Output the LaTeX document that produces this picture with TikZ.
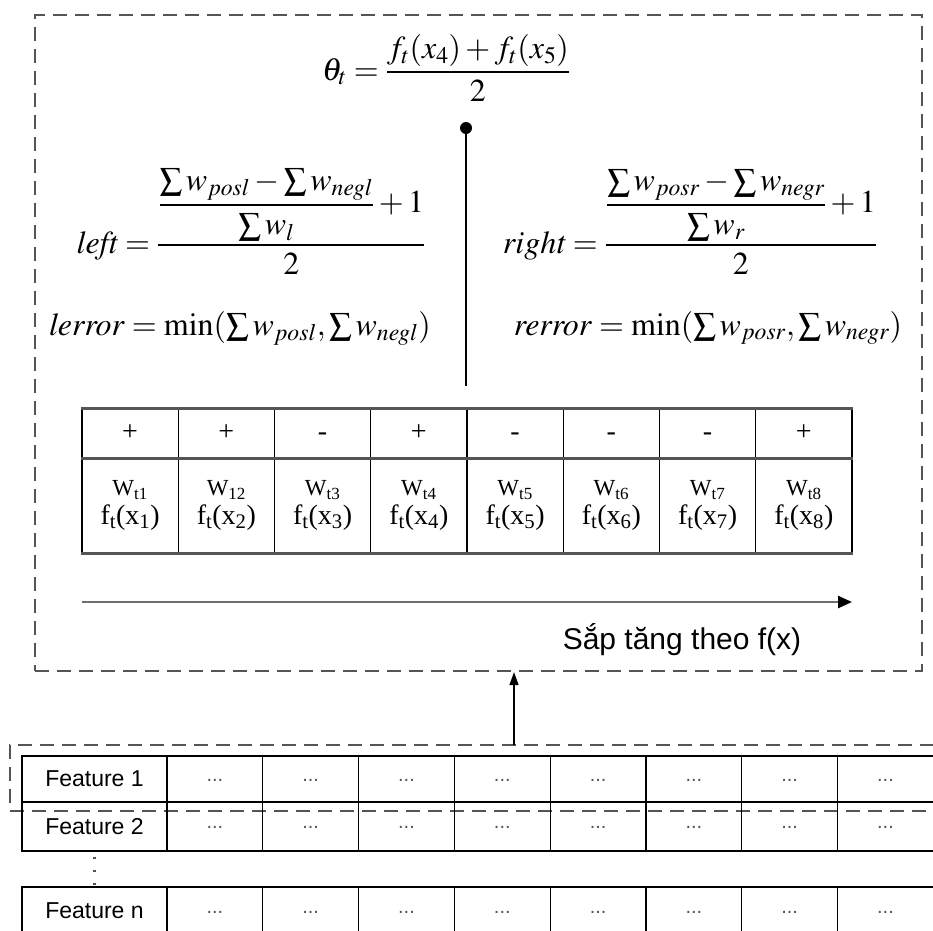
\documentclass[tikz,border=0pt]{standalone}
\usepackage{amsmath}
\usepackage{mathptmx}
\usepackage{fontspec}
\setmainfont{Liberation Serif}
\newfontfamily\arial{Liberation Sans}
\usetikzlibrary{arrows.meta,positioning,calc}
\definecolor{colTrait}{RGB}{85,85,85}
\definecolor{colGris}{RGB}{110,110,110}

\begin{document}
\begin{tikzpicture}[x=1pt, y=-1pt,
    cadre/.style={draw=colTrait, line width=2.2pt, dash pattern=on 14pt off 8pt,
      inner sep=0pt},
    fml/.style={anchor=base, inner sep=0pt, font=\fontsize{32}{34}\selectfont},
    cel/.style={draw, line width=1.2pt, minimum width=96.25pt, inner sep=0pt,
      align=center, font=\fontsize{28}{30}\selectfont},
    feat/.style={draw, line width=1.2pt, minimum width=145pt, inner sep=0pt,
      font=\arial\fontsize{23}{24}\selectfont},
    vide/.style={draw, line width=1.2pt, minimum width=95.8pt, inner sep=0pt,
      text=colTrait, font=\arial\fontsize{20}{22}\selectfont},
    fl/.style={-{Triangle[length=14pt, width=12pt, color=black]}, line width=2.5pt,
      colGris},
    fh/.style={-{Triangle[length=13pt, width=9pt]}, line width=1.5pt}]
  \useasboundingbox (0,0) rectangle (933,930);

  % cadre du haut
  \node[cadre, minimum width=887pt, minimum height=656pt] (boite) at (478.5,343) {};

  % seuil et formules
  \node[fml] (theta) at (446,80)
    {$\theta_t = \dfrac{f_t(x_4)+f_t(x_5)}{2}$};
  \node[circle, fill, inner sep=0pt, minimum size=12pt] (pt) at (466,128) {};
  \coordinate (fin) at (466,386);
  \draw[line width=1.5pt] (pt) -- (fin);

  \node[fml] (left) at (251,253)
    {$\mathit{left} = \dfrac{\dfrac{\sum w_{posl} - \sum w_{negl}}{\sum w_l}+1}{2}$};
  \node[fml] (right) at (690,253)
    {$\mathit{right} = \dfrac{\dfrac{\sum w_{posr} - \sum w_{negr}}{\sum w_r}+1}{2}$};
  \node[fml] (lerr) at (240,335)
    {$\mathit{lerror} = \min(\sum w_{posl}, \sum w_{negl})$};
  \node[fml] (rerr) at (708,335)
    {$\mathit{rerror} = \min(\sum w_{posr}, \sum w_{negr})$};

  % tableau trie
  \foreach \s [count=\i] in {+,+,-,+,-,-,-,+} {
    \node[cel, minimum height=49pt, text height=16pt, text depth=2pt]
      (s\i) at ({82+96.25*(\i-0.5)},433.5) {\s};
  }
  \foreach \w [count=\i] in {t1,12,t3,t4,t5,t6,t7,t8} {
    \node[cel, minimum height=95pt] (v\i) at ({82+96.25*(\i-0.5)},505.5)
      {{\fontsize{23}{24}\selectfont W\textsubscript{\w}}\\[-1pt]
       f\textsubscript{t}(x\textsubscript{\i})};
  }
  \foreach \k in {s1.north west, s1.south west, v1.south west} {
    \draw[colTrait, line width=2.6pt] (\k) -- (\k -| s8.east);
  }

  \coordinate (ga) at (82,602);
  \coordinate (dr) at (852,602);
  \draw[fl] (ga) -- (dr);
  \node[font=\arial\fontsize{30}{32}\selectfont] (tri) at (682,640)
    {Sắp tăng theo f(x)};

  % features
  \node[cadre, minimum width=935pt, minimum height=66pt] (bas) at (477.5,778) {};
  \foreach \r/\yc/\h in {1/779/46, 2/826.5/49, n/911/48} {
    \node[feat, minimum height=\h pt] (f\r) at (94.5,\yc) {Feature \r};
    \foreach \k in {1,...,8} {
      \node[vide, minimum height=\h pt] (c\r\k) at ({167+95.8*(\k-0.5)},\yc)
        {\raisebox{-4pt}{...}};
    }
  }
  \draw[line width=2.5pt, colTrait, dash pattern=on 2pt off 11pt]
    ([yshift=-5pt]f2.south) -- (fn.north);

  \coordinate (dep) at (514,745);
  \draw[fh] (dep) -- (dep |- boite.south);
\end{tikzpicture}
\end{document}
